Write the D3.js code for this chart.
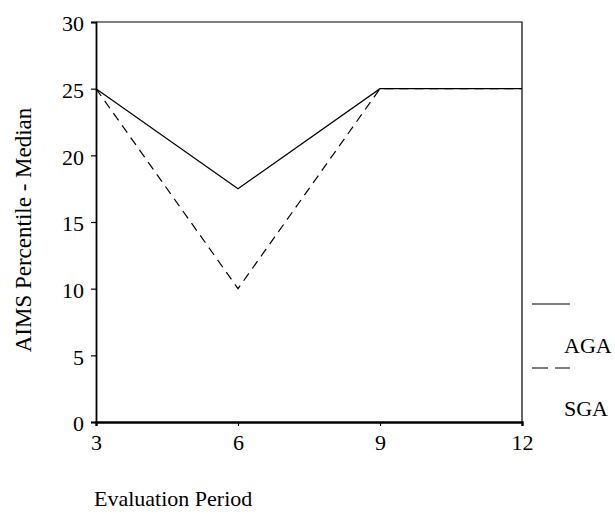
<!DOCTYPE html>
<html>
<head>
<meta charset="utf-8">
<script src="https://cdn.jsdelivr.net/npm/d3@7"></script>
<style>
  body { margin: 0; background: #fff; }
  svg text { font-family: "Liberation Serif", "Times New Roman", serif; fill: #000; }
</style>
</head>
<body>
<svg id="chart" width="615" height="514"></svg>
<script>
// months of evaluation
const periods = [3, 6, 9, 12]
const agaMedian = [25, 17.5, 25, 25]
const sgaMedian = [25, 10, 25, 25]
const yTicks = [0, 5, 10, 15, 20, 25, 30]
const seriesNames = ["AGA", "SGA"]

const svg = d3.select("#chart")
const plotLeft = 96, plotRight = 522, plotTop = 22, plotBottom = 422
const fontSize = 22

const x = d3.scaleLinear().domain([3, 12]).range([plotLeft, plotRight])
const y = d3.scaleLinear().domain([0, 30]).range([plotBottom, plotTop])

// frame: top and right sides
svg.append("path")
   .attr("d", "M" + plotLeft + "," + plotTop + "H" + plotRight + "V" + plotBottom)
   .attr("fill", "none")
   .attr("stroke", "#000")
   .attr("stroke-width", 1.2)

// y axis
svg.append("g")
   .attr("transform", "translate(" + plotLeft + ",0)")
   .call(d3.axisLeft(y).tickValues(yTicks).tickSize(5).tickPadding(7))
   .attr("font-size", fontSize)
   .call(g => g.select(".domain").attr("stroke-width", 1.8))
   .call(g => g.selectAll(".tick line").attr("stroke-width", 1.2))
   .call(g => g.selectAll(".tick text").attr("dy", "0.4em"))

// x axis
svg.append("g")
   .attr("transform", "translate(0," + plotBottom + ")")
   .call(d3.axisBottom(x).tickValues(periods).tickSize(4).tickPadding(8))
   .attr("font-size", fontSize)
   .call(g => g.select(".domain").attr("stroke-width", 2.4))
   .call(g => g.selectAll(".tick line").attr("stroke-width", 1.2))

let line = d3.line()
             .x((d, i) => x(periods[i]))
             .y(d => y(d))

svg.append("path")
   .datum(agaMedian)
   .attr("d", line)
   .attr("fill", "none")
   .attr("stroke", "#000")
   .attr("stroke-width", 1.2)

svg.append("path")
   .datum(sgaMedian)
   .attr("d", line)
   .attr("fill", "none")
   .attr("stroke", "#000")
   .attr("stroke-width", 1.2)
   .attr("stroke-dasharray", "9,6")

// legend: line sample above each name
const legend = svg.append("g")
legend.selectAll("line")
      .data(seriesNames)
      .enter()
      .append("line")
      .attr("x1", 532)
      .attr("x2", 570)
      .attr("y1", (d, i) => 304 + i * 64)
      .attr("y2", (d, i) => 304 + i * 64)
      .attr("stroke", "#000")
      .attr("stroke-width", 1.2)
      .attr("stroke-dasharray", (d, i) => i ? "16,7" : null)

legend.selectAll("text")
      .data(seriesNames)
      .enter()
      .append("text")
      .attr("x", 564)
      .attr("y", (d, i) => 353 + i * 63)
      .attr("font-size", fontSize)
      .text(d => d)

// axis titles
svg.append("text")
   .attr("x", 94)
   .attr("y", 506)
   .attr("font-size", fontSize)
   .text("Evaluation Period")

svg.append("text")
   .attr("transform", "translate(31,230) rotate(-90)")
   .attr("text-anchor", "middle")
   .attr("font-size", 23)
   .text("AIMS Percentile - Median")
</script>
</body>
</html>
